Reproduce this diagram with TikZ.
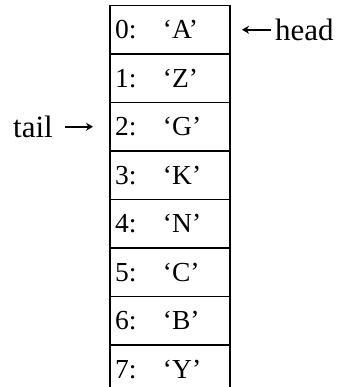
\documentclass[tikz,border=0pt]{standalone}
\usepackage{fontspec}
\setmainfont{Liberation Serif}
\usepackage{tikz}
\usetikzlibrary{arrows.meta, positioning}

% one slot of the array: index and character
\newcommand{\slot}[2]{\makebox[48pt][l]{#1:}`#2'}

\begin{document}
\begin{tikzpicture}[
        x=1pt, y=1pt,
        node distance=0pt,
        cell/.style={rectangle, draw, line width=1.5pt, outer sep=0pt,
            minimum width=120pt, minimum height=48.5pt, text width=110pt,
            inner xsep=5pt, align=left, font=\fontsize{27.5}{32}\selectfont},
        label/.style={inner sep=0pt, font=\fontsize{31}{36}\selectfont},
        line/.style={draw, line width=1.8pt, -{Stealth[length=7pt, width=8pt]}}
    ]
    \useasboundingbox (0,0) rectangle (353,387);

    % Nodes
    \node [cell, anchor=north west] (r0) at (110,381.5) {\slot{0}{A}};
    \node [cell, below=of r0] (r1) {\slot{1}{Z}};
    \node [cell, below=of r1] (r2) {\slot{2}{G}};
    \node [cell, below=of r2] (r3) {\slot{3}{K}};
    \node [cell, below=of r3] (r4) {\slot{4}{N}};
    \node [cell, below=of r4] (r5) {\slot{5}{C}};
    \node [cell, below=of r5] (r6) {\slot{6}{B}};
    \node [cell, below=of r6] (r7) {\slot{7}{Y}};
    \node [label, right=45pt of r0] (head) {head};
    \node [label, left=57pt of r2] (tail) {tail};

    % Edges
    \path [line, shorten <=4pt, shorten >=12pt] (head.west) -- (r0.east);
    \path [line, shorten <=12pt, shorten >=17pt] (tail.east) -- (r2.west);

\end{tikzpicture}
\end{document}
